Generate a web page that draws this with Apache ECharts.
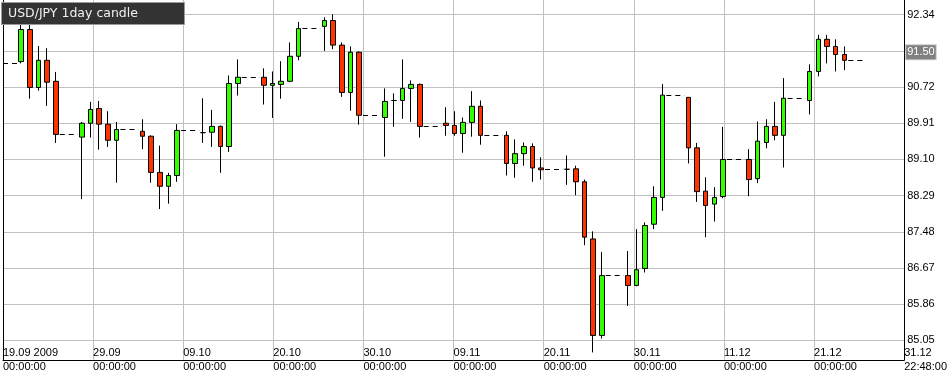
<!DOCTYPE html>
<html><head><meta charset="utf-8">
<script src="https://cdn.jsdelivr.net/npm/echarts@6/dist/echarts.min.js"></script>
<style>html,body{margin:0;padding:0;background:#fff}#c{width:950px;height:377px}</style>
</head><body><div id="c"></div>
<script>
// ---- data ----
const dates = [
'2009-09-21','2009-09-22','2009-09-23','2009-09-24','2009-09-25',
'2009-09-28','2009-09-29','2009-09-30','2009-10-01','2009-10-02',
'2009-10-05','2009-10-06','2009-10-07','2009-10-08','2009-10-09',
'2009-10-12','2009-10-13','2009-10-14','2009-10-15','2009-10-16',
'2009-10-19','2009-10-20','2009-10-21','2009-10-22','2009-10-23',
'2009-10-26','2009-10-27','2009-10-28','2009-10-29','2009-10-30',
'2009-11-02','2009-11-03','2009-11-04','2009-11-05','2009-11-06',
'2009-11-09','2009-11-10','2009-11-11','2009-11-12','2009-11-13',
'2009-11-16','2009-11-17','2009-11-18','2009-11-19','2009-11-20',
'2009-11-23','2009-11-24','2009-11-25','2009-11-26','2009-11-27',
'2009-11-30','2009-12-01','2009-12-02','2009-12-03','2009-12-04',
'2009-12-07','2009-12-08','2009-12-09','2009-12-10','2009-12-11',
'2009-12-14','2009-12-15','2009-12-16','2009-12-17','2009-12-18',
'2009-12-21','2009-12-22','2009-12-23','2009-12-24','2009-12-25'];
const opens = [
91.29,92.01,90.71,91.32,90.85, 89.60,89.91,90.24,89.89,89.53,
89.73,89.62,88.81,88.50,88.74, 89.70,89.71,89.84,89.39,90.80,
90.94,90.76,90.78,90.85,91.41, 92.08,92.21,91.66,90.60,91.50,
90.04,90.42,90.42,90.69,90.78, 89.91,89.86,89.68,89.93,90.29,
89.64,89.01,89.23,89.39,88.91, 88.88,88.89,88.60,87.32,85.16,
86.50,86.28,86.66,87.65,88.25, 90.49,89.36,88.39,88.10,88.27,
89.10,88.67,89.48,89.84,89.64, 90.42,91.07,91.79,91.63,91.45];
const closes = [
92.01,90.71,91.32,90.83,89.66, 89.91,90.22,89.89,89.53,89.77,
89.62,88.81,88.50,88.74,89.75, 89.70,89.84,89.39,90.80,90.94,
90.76,90.80,90.85,91.41,92.03, 92.21,91.66,90.60,91.50,90.09,
90.40,90.42,90.69,90.78,89.84, 89.86,89.68,89.93,90.29,89.64,
89.01,89.23,89.39,88.91,88.87, 88.88,88.60,87.36,85.16,86.50,
86.28,86.63,87.62,88.25,90.54, 89.36,88.38,88.07,88.25,89.10,
88.65,89.51,89.84,89.64,90.47, 91.07,91.79,91.63,91.45,91.32];
const lows = [
91.25,90.46,90.64,90.30,89.47, 88.21,89.59,89.32,89.38,88.58,
89.33,88.58,87.99,88.11,88.60, 89.47,89.38,88.80,89.27,90.53,
90.33,90.03,90.46,90.83,91.32, 91.53,91.57,90.50,90.19,89.88,
89.16,89.83,90.01,89.94,89.59, 89.63,89.63,89.25,89.61,89.43,
88.74,88.69,88.96,88.60,88.65, 88.53,88.30,87.18,84.78,85.09,
85.82,86.26,86.57,87.54,87.95, 89.01,88.15,87.36,87.71,88.23,
88.28,88.57,89.35,89.53,88.92, 90.11,90.96,91.25,91.07,91.10];
const highs = [
92.15,92.20,91.64,91.59,91.06, 89.94,90.39,90.41,90.18,89.94,
90.00,89.64,89.41,88.80,89.89, 90.47,90.21,89.86,90.98,91.34,
91.14,91.07,91.30,91.72,92.18, 92.28,92.35,91.72,91.63,91.52,
90.69,90.58,91.34,90.87,90.80, 90.27,90.18,90.04,90.63,90.42,
89.73,89.55,89.48,89.46,89.15, 89.19,88.96,88.65,87.49,87.03,
87.05,87.54,87.69,88.50,90.79, 90.49,89.47,88.70,88.48,89.83,
89.33,89.95,90.00,90.39,90.92, 91.23,91.89,91.89,91.79,91.63];
const prevClose = 91.265;          // close of the Friday before the first candle
const lastQuoteDate = '2009-12-27'; const lastQuoteHour = 7;
const lastBid = 91.50;
const xDateLabels = ['19.09 2009','29.09','09.10','20.10','30.10','09.11','20.11','30.11','11.12','21.12','31.12'];
const xTimeLabels = ['00:00:00','00:00:00','00:00:00','00:00:00','00:00:00','00:00:00','00:00:00','00:00:00','00:00:00','00:00:00','22:48:00'];
const yTickLabels = ['85.05','85.86','86.67','87.48','88.29','89.10','89.91','90.72','91.53','92.34'];
const titleText = 'USD/JPY 1day candle';

// ---- helpers ----
const START = Date.UTC(2009, 8, 19);
function dayNum(s) { const p = s.split('-').map(Number); return (Date.UTC(p[0], p[1]-1, p[2]) - START) / 864e5; }
const AXIS_DAYS = 104;          // 19.09 00:00 -> 31.12 22:48
const SHIFT = 0.1, GAP = 0.45;
const xs = dates.map(d => dayNum(d) + SHIFT);
const candleData = xs.map((x, i) => [x, opens[i], closes[i], lows[i], highs[i]]);
const xTicks = xDateLabels.map((_, i) => i * AXIS_DAYS / (xDateLabels.length - 1));
const yTicks = yTickLabels.map(Number);

const segs = [];
segs.push({coords: [[0, prevClose], [xs[0] - GAP, prevClose]]});
for (let i = 0; i < xs.length - 1; i++) {
  if (xs[i+1] - xs[i] > 1.5) segs.push({coords: [[xs[i] + GAP, closes[i]], [xs[i+1] - GAP, closes[i]]]});
}
const lastX = dayNum(lastQuoteDate) + lastQuoteHour / 24;
segs.push({coords: [[xs[xs.length-1] + GAP, closes[closes.length-1]], [lastX, closes[closes.length-1]]]});

const FONT = 'Liberation Sans';
const chart = echarts.init(document.getElementById('c'), null, {renderer: 'canvas'});
chart.setOption({
  animation: false,
  backgroundColor: '#fff',
  title: {
    text: titleText, left: 1, top: 2, padding: [5, 47, 5, 7],
    backgroundColor: '#333333', borderColor: '#9a9a9a', borderWidth: 1,
    textStyle: {color: '#f0f0f0', fontSize: 12.5, fontWeight: 'normal', fontFamily: 'DejaVu Sans'}
  },
  grid: {left: 1, right: 42, top: 0, bottom: 17, containLabel: false},
  xAxis: [{
    type: 'value', min: 0, max: AXIS_DAYS,
    axisLine: {show: true, onZero: false, lineStyle: {color: '#000', width: 1}},
    axisTick: {show: false, customValues: xTicks},
    axisLabel: {
      customValues: xTicks, align: 'left', margin: -14.5, color: '#000',
      fontFamily: FONT, fontSize: 11, lineHeight: 14.5,
      formatter: v => { const k = Math.round(v / (AXIS_DAYS / (xDateLabels.length - 1))); return xDateLabels[k] + '\n' + xTimeLabels[k]; }
    },
    splitLine: {show: true, lineStyle: {color: '#c0c0c0', width: 1}}
  }],
  yAxis: [{
    type: 'value', position: 'right', min: 84.61, max: 92.67,
    axisLine: {show: true, onZero: false, lineStyle: {color: '#000', width: 1}},
    axisTick: {show: false, customValues: yTicks},
    axisLabel: {customValues: yTicks, margin: 3, color: '#000', fontFamily: FONT, fontSize: 11,
      padding: [0, 0, 8, 0], formatter: v => yTickLabels[yTicks.indexOf(v)] || v.toFixed(2)},
    splitLine: {show: true, lineStyle: {color: '#c0c0c0', width: 1}}
  }, {
    type: 'value', position: 'left', min: 84.61, max: 92.67,
    axisLine: {show: true, onZero: false, lineStyle: {color: '#000', width: 1}},
    axisTick: {show: false}, axisLabel: {show: false}, splitLine: {show: false}
  }],
  series: [{
    type: 'candlestick', xAxisIndex: 0, yAxisIndex: 0,
    data: candleData, encode: {x: 0, y: [1, 2, 3, 4]},
    barWidth: 5,
    itemStyle: {color: '#33ff00', color0: '#ff3300', borderColor: '#000', borderColor0: '#000', borderColorDoji: '#000', borderWidth: 1},
    markLine: {
      silent: true, symbol: ['none', 'none'], animation: false,
      lineStyle: {color: 'rgba(0,0,0,0)', width: 0},
      label: {show: true, position: 'end', distance: 2, formatter: () => lastBid.toFixed(2),
        color: '#fff', backgroundColor: '#808080', borderColor: '#c8c8c8', borderWidth: 1,
        padding: [2, 1, 1, 1], fontFamily: FONT, fontSize: 11},
      data: [{yAxis: lastBid}]
    }
  }, {
    type: 'lines', coordinateSystem: 'cartesian2d', xAxisIndex: 0, yAxisIndex: 0, silent: true,
    lineStyle: {color: '#000', width: 1, type: [5, 4], opacity: 1},
    data: segs
  }]
});
</script></body></html>
